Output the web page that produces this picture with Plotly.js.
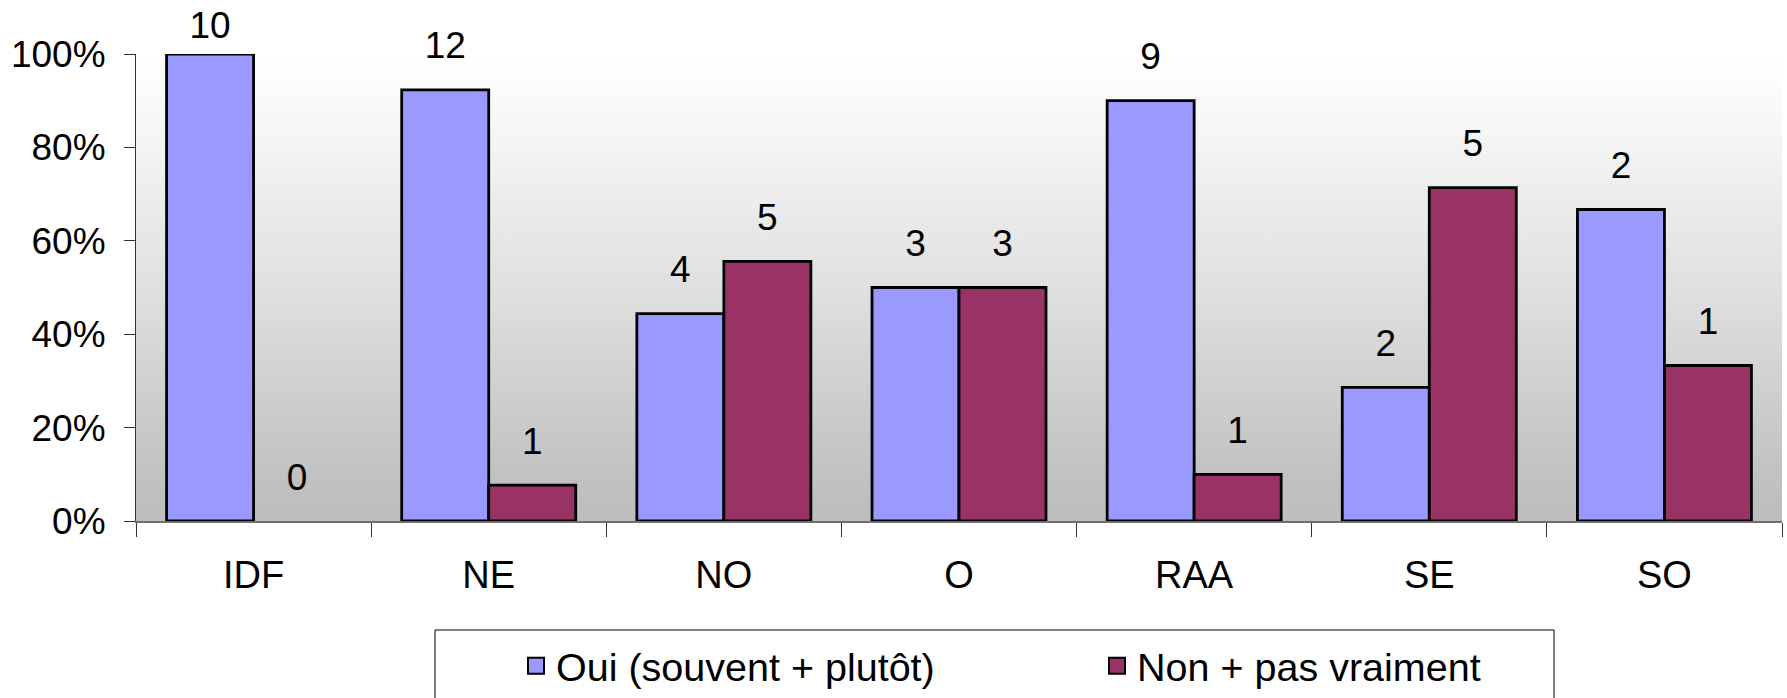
<!DOCTYPE html>
<html>
<head>
<meta charset="utf-8">
<script src="https://cdn.plot.ly/plotly-3.0.1.min.js"></script>
<style>html,body{margin:0;padding:0;background:#fff;}#chart{width:1787px;height:698px;}</style>
</head>
<body>
<div id="chart"></div>
<script>
// ---- data ----
const regions = ['IDF', 'NE', 'NO', 'O', 'RAA', 'SE', 'SO'];
const seriesNames = ['Oui (souvent + plutôt)', 'Non + pas vraiment'];
const ouiPct = [100, 92.3, 44.4, 50, 90, 28.6, 66.7];
const nonPct = [0, 7.7, 55.6, 50, 10, 71.4, 33.3];
const ouiCount = [10, 12, 4, 3, 9, 2, 2];
const nonCount = [0, 1, 5, 3, 1, 5, 1];
const yTickVals = [0, 20, 40, 60, 80, 100];
const yTickText = ['0%', '20%', '40%', '60%', '80%', '100%'];

// ---- layout constants (pixels) ----
const W = 1787, H = 698;
const M = {l: 136, r: 5, t: 54, b: 177};
const PW = W - M.l - M.r, PH = H - M.t - M.b;
const px = x => (x - M.l) / PW;
const py = y => (H - M.b - y) / PH;

const FONT = 'Liberation Sans, Arial, sans-serif';
const BLUE = '#9999FF', RED = '#993366';

// label offset: Excel keeps labels inside the chart, so a full bar gets a smaller gap
const labelSize = pcts => pcts.map(v => v >= 100 ? 10 : 34);
// zero-height bars are not outlined
const outline = pcts => pcts.map(v => v > 0 ? 2.8 : 0);

const bars = [
  {type: 'bar', x: regions, y: ouiPct, name: seriesNames[0], offsetgroup: 'oui', showlegend: false,
   marker: {color: BLUE, line: {color: '#000', width: outline(ouiPct)}}},
  {type: 'bar', x: regions, y: nonPct, name: seriesNames[1], offsetgroup: 'non', showlegend: false,
   marker: {color: RED, line: {color: '#000', width: outline(nonPct)}}}
];
const labels = [
  {type: 'scatter', mode: 'markers+text', x: regions, y: ouiPct, text: ouiCount.map(String),
   offsetgroup: 'oui', showlegend: false, cliponaxis: false, textposition: 'top center',
   marker: {size: labelSize(ouiPct), color: 'rgba(0,0,0,0)', opacity: 0, line: {width: 0}},
   textfont: {family: FONT, size: 37, color: '#000'}},
  {type: 'scatter', mode: 'markers+text', x: regions, y: nonPct, text: nonCount.map(String),
   offsetgroup: 'non', showlegend: false, cliponaxis: false, textposition: 'top center',
   marker: {size: labelSize(nonPct), color: 'rgba(0,0,0,0)', opacity: 0, line: {width: 0}},
   textfont: {family: FONT, size: 37, color: '#000'}}
];
const legendEntries = [
  {type: 'scatter', mode: 'markers', x: [null], y: [null], name: seriesNames[0], offsetgroup: 'oui',
   marker: {symbol: 'square', size: 16, color: BLUE, line: {color: '#000', width: 2}}},
  {type: 'scatter', mode: 'markers', x: [null], y: [null], name: seriesNames[1], offsetgroup: 'non',
   marker: {symbol: 'square', size: 16, color: RED, line: {color: '#000', width: 2}}}
];

const grad = "<svg xmlns='http://www.w3.org/2000/svg' width='10' height='100' viewBox='0 0 10 100' preserveAspectRatio='none'>" +
  "<defs><linearGradient id='g' x1='0' y1='0' x2='0' y2='1'>" +
  "<stop offset='0' stop-color='#ffffff'/><stop offset='0.05' stop-color='#fdfdfd'/>" +
  "<stop offset='0.5' stop-color='#e0e0e0'/><stop offset='0.92' stop-color='#c0c0c0'/><stop offset='1' stop-color='#bebebe'/>" +
  "</linearGradient></defs><rect width='10' height='100' fill='url(#g)'/></svg>";

const layout = {
  width: W, height: H,
  margin: {l: M.l, r: M.r, t: M.t, b: M.b, pad: 0, autoexpand: false},
  paper_bgcolor: '#fff', plot_bgcolor: 'rgba(0,0,0,0)',
  font: {family: FONT, size: 37, color: '#000'},
  barmode: 'group', scattermode: 'group', bargap: 0.26, bargroupgap: 0,
  hovermode: false,
  xaxis: {type: 'category', showgrid: false, zeroline: false, showline: true, linecolor: '#6f6f6f', linewidth: 1.5,
          ticks: 'outside', tickson: 'boundaries', ticklen: 14, tickcolor: '#333', tickwidth: 1,
          ticklabelstandoff: 20, tickfont: {family: FONT, size: 38, color: '#000'}},
  yaxis: {range: [0, 100], tickmode: 'array', tickvals: yTickVals, ticktext: yTickText, showgrid: false, zeroline: false,
          showline: true, linecolor: '#333', linewidth: 1, ticks: 'outside', ticklen: 11, tickcolor: '#333',
          ticklabelstandoff: 11, tickfont: {family: FONT, size: 37, color: '#000'}},
  showlegend: true,
  legend: {orientation: 'h', x: px(516), xanchor: 'left', y: py(666), yanchor: 'middle',
           bgcolor: 'rgba(0,0,0,0)', borderwidth: 0, itemsizing: 'trace',
           entrywidth: 536, entrywidthmode: 'pixels', font: {family: FONT, size: 39.5, color: '#000'}},
  images: [{source: 'data:image/svg+xml;charset=utf-8,' + encodeURIComponent(grad),
            xref: 'paper', yref: 'paper', x: 0, y: 1, sizex: 1, sizey: 1,
            xanchor: 'left', yanchor: 'top', sizing: 'stretch', layer: 'below'}],
  shapes: [{type: 'rect', xref: 'paper', yref: 'paper', x0: px(435), x1: px(1554), y0: py(630), y1: py(740),
            line: {color: '#000', width: 1}, fillcolor: 'rgba(0,0,0,0)', layer: 'above'}]
};

Plotly.newPlot('chart', bars.concat(labels, legendEntries), layout, {displayModeBar: false, staticPlot: true});
</script>
</body>
</html>
